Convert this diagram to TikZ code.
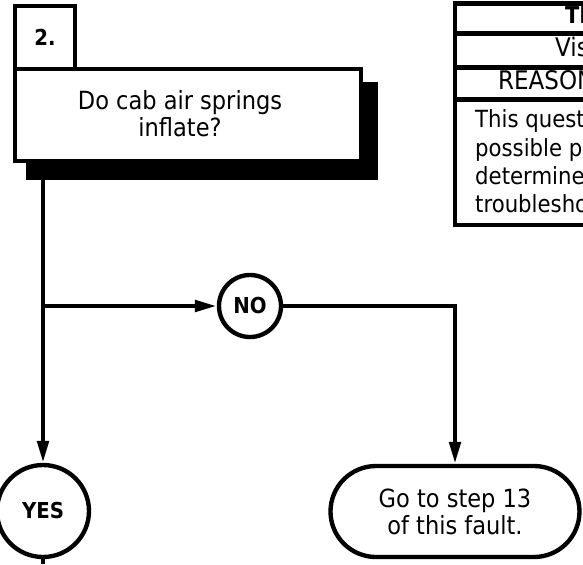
\documentclass[tikz,border=0pt]{standalone}
\usepackage{fontspec}
\setmainfont{DejaVu Sans Condensed}[BoldFont={DejaVu Sans Condensed Bold}]
\usetikzlibrary{arrows.meta}

\begin{document}
\begin{tikzpicture}[
		line width=3.1pt,
		flow/.style={-{Triangle[length=0.55cm,width=0.28cm]}},
		box/.style={rectangle, draw, fill=white, inner sep=0pt},
		answer/.style={circle, draw, fill=white, inner sep=0pt, font=\fontsize{15.6}{18}\selectfont\bfseries},
		txt/.style={font=\fontsize{17.8}{19.2}\selectfont},
		tabletxt/.style={anchor=west, inner sep=0pt, text height=0.76em, text depth=0.24em, font=\fontsize{18.2}{20.4}\selectfont},
		bodytxt/.style={tabletxt, font=\fontsize{16.8}{20.4}\selectfont}
	]
		% Frame
		\useasboundingbox (0,0) rectangle (14.575,-14.1);
		\clip (0,0) rectangle (14.575,-14.1);
		
		% Step box with shadow
		\fill (0.65,-2.05) rectangle (9.45,-4.5);
		\node[box, minimum width=1.5cm, minimum height=1.575cm, font=\fontsize{15.6}{18}\selectfont\bfseries] (stepno) at (1.125,-0.9375) {2.};
		\node[box, minimum width=8.65cm, minimum height=2.3cm] (question) at (4.7,-2.875) {};
		\node[txt, align=center] (questiontxt) at (4.5,-2.84) {Do cab air springs\\inflate?};
		
		% Answers
		\node[answer, minimum size=1.55cm] (no) at (6.25,-7.65) {NO};
		\node[answer, minimum size=2.3cm] (yes) at (1.075,-12.775) {YES};
		\node[draw, rounded corners=1.1375cm, minimum width=6.225cm, minimum height=2.275cm, txt, align=center] (goto) at (11.375,-12.7875) {Go to step 13\\of this fault.};
		
		% Connectors
		\coordinate (shadowbottom) at (1.075,-4.5);
		\coordinate (split) at (1.075,-7.65);
		\coordinate (bottom) at (1.075,-14.1);
		\draw[flow] (shadowbottom) -- (yes);
		\draw[flow] (split) -- (no);
		\draw[flow] (no) -| (goto);
		\draw (yes) -- (bottom);
		
		% Test table (cut at right edge)
		\draw (11.375,-0.0875) rectangle (15.5,-5.625);
		\foreach \y in {-0.8375,-1.6875,-2.4875}
			\draw (11.375,\y) -- (15.5,\y);
		\node[tabletxt, font=\fontsize{16.5}{18}\selectfont\bfseries] (testhead) at (14.075,-0.5) {TE};
		\node[tabletxt] (testtype) at (13.825,-1.32) {Vis};
		\node[tabletxt] (reasonhead) at (12.4,-2.14) {REASON};
		\node[bodytxt] (reason1) at (11.825,-3.09) {This quest};
		\node[bodytxt] (reason2) at (11.825,-3.81) {possible pr};
		\node[bodytxt] (reason3) at (11.825,-4.51) {determines};
		\node[bodytxt] (reason4) at (11.825,-5.23) {troublesho};
	\end{tikzpicture}
\end{document}
